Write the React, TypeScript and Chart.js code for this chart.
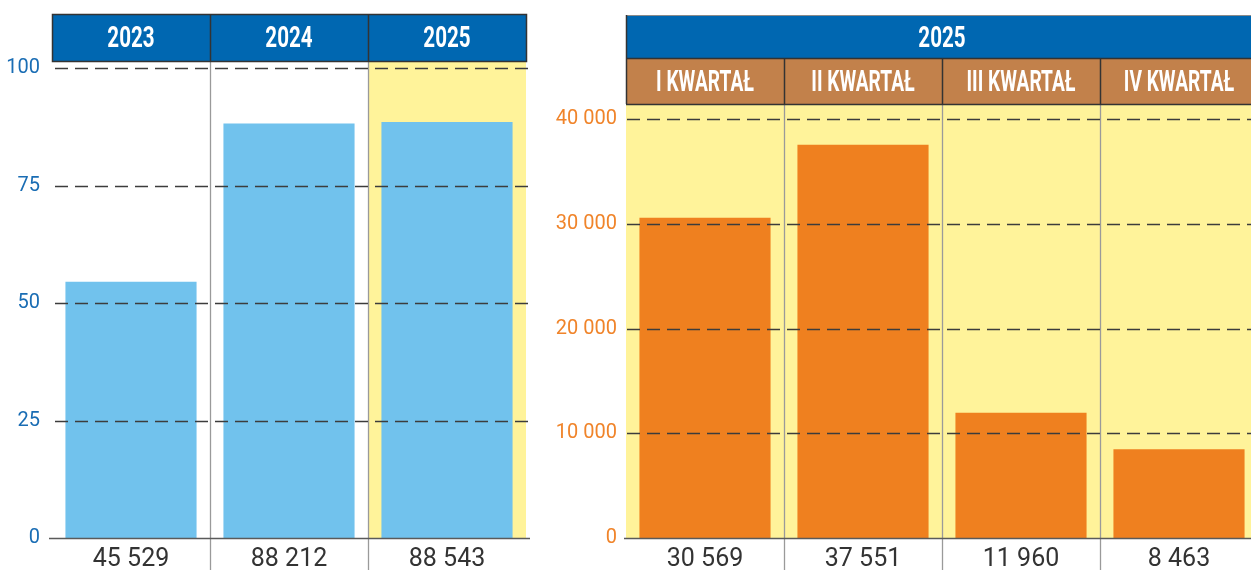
import React, { useEffect, useRef } from 'react';
import { Chart, registerables } from 'chart.js';

Chart.register(...registerables);

// ---- data ----
const yearCategories = ['2023', '2024', '2025'];
const yearBarValues = [54.5, 88.2, 88.5];
const yearValueLabels = ['45 529', '88 212', '88 543'];
const yearAxisMax = 100;
const yearAxisStep = 25;
const yearHighlightIndex = 2;

const quarterGroupTitle = '2025';
const quarterCategories = ['I KWARTAŁ', 'II KWARTAŁ', 'III KWARTAŁ', 'IV KWARTAŁ'];
const quarterValues = [30569, 37551, 11960, 8463];
const quarterValueLabels = ['30 569', '37 551', '11 960', '8 463'];
const quarterAxisMax = 40000;
const quarterAxisStep = 10000;

// ---- styles ----
const C = {
  headerBlue: '#0067b1',
  headerBrown: '#c2814b',
  yellow: '#fff39a',
  barBlue: '#71c2ed',
  barOrange: '#ef801f',
  tickBlue: '#1a6db4',
  tickOrange: '#f0842a',
  text: '#333333',
  grid: '#3c3c3c',
  divider: '#9a9a9a',
  border: '#333333',
  axis: '#5a5a5a',
};

const FONT = 'Roboto, "DejaVu Sans", sans-serif';

function spaced(n: number): string {
  return String(n).replace(/\B(?=(\d{3})+(?!\d))/g, ' ');
}

function categoryBounds(chart: any): number[] {
  const x = chart.scales.x;
  const n = chart.data.labels.length;
  const w = (x.right - x.left) / n;
  const out: number[] = [];
  for (let i = 0; i <= n; i++) out.push(x.left + i * w);
  return out;
}

function condensedText(ctx: CanvasRenderingContext2D, text: string, cx: number, baseline: number, size: number, sx: number, color: string) {
  ctx.save();
  ctx.translate(cx, baseline);
  ctx.scale(sx, 1);
  ctx.fillStyle = color;
  ctx.font = `bold ${size}px ${FONT}`;
  ctx.textAlign = 'center';
  ctx.textBaseline = 'alphabetic';
  ctx.fillText(text, 0, 0);
  ctx.restore();
}

function hLine(ctx: CanvasRenderingContext2D, x1: number, x2: number, y: number) {
  ctx.beginPath();
  ctx.moveTo(x1, y);
  ctx.lineTo(x2, y);
  ctx.stroke();
}
function vLine(ctx: CanvasRenderingContext2D, x: number, y1: number, y2: number) {
  ctx.beginPath();
  ctx.moveTo(x, y1);
  ctx.lineTo(x, y2);
  ctx.stroke();
}

function drawGridAndAxis(chart: any, step: number, max: number, gl: number, gr: number, al: number, ar: number) {
  const { ctx, scales } = chart;
  const y = scales.y;
  ctx.save();
  ctx.strokeStyle = C.grid;
  ctx.lineWidth = 1.6;
  ctx.setLineDash([13, 7]);
  for (let v = step; v <= max; v += step) {
    const py = Math.round(y.getPixelForValue(v)) + 0.5;
    hLine(ctx, gl, gr, py);
  }
  ctx.setLineDash([]);
  ctx.strokeStyle = C.axis;
  ctx.lineWidth = 1.4;
  const p0 = Math.round(y.getPixelForValue(0)) + 0.5;
  hLine(ctx, al, ar, p0);
  ctx.restore();
}

const yearPlugin = {
  id: 'yearDecor',
  beforeDatasetsDraw(chart: any) {
    const { ctx, chartArea: a } = chart;
    const b = categoryBounds(chart);
    const headerBottom = 61;
    ctx.save();
    ctx.fillStyle = C.yellow;
    ctx.fillRect(b[yearHighlightIndex], headerBottom, b[yearHighlightIndex + 1] - b[yearHighlightIndex], a.bottom - headerBottom);
    ctx.strokeStyle = C.divider;
    ctx.lineWidth = 1.3;
    for (let i = 1; i < b.length - 1; i++) {
      vLine(ctx, Math.round(b[i]) + 0.5, headerBottom, chart.height);
    }
    ctx.restore();
  },
  afterDatasetsDraw(chart: any) {
    const { ctx, chartArea: a } = chart;
    const b = categoryBounds(chart);
    drawGridAndAxis(chart, yearAxisStep, yearAxisMax, a.left + 3, a.right + 4, a.left - 3, a.right + 4);
    const top = 14, bottom = 61;
    ctx.save();
    ctx.fillStyle = C.headerBlue;
    ctx.fillRect(b[0], top, b[b.length - 1] - b[0], bottom - top);
    ctx.strokeStyle = C.border;
    ctx.lineWidth = 1.5;
    ctx.strokeRect(Math.round(b[0]) + 0.5, top + 0.5, Math.round(b[b.length - 1] - b[0]), bottom - top);
    for (let i = 1; i < b.length - 1; i++) vLine(ctx, Math.round(b[i]) + 0.5, top, bottom);
    ctx.restore();
    yearCategories.forEach((label, i) => {
      condensedText(ctx, label, (b[i] + b[i + 1]) / 2, 47, 29, 0.71, '#ffffff');
    });
  },
};

const quarterPlugin = {
  id: 'quarterDecor',
  beforeDatasetsDraw(chart: any) {
    const { ctx, chartArea: a } = chart;
    const b = categoryBounds(chart);
    const top = 104;
    ctx.save();
    ctx.fillStyle = C.yellow;
    ctx.fillRect(b[0], top, b[b.length - 1] - b[0], a.bottom - top);
    ctx.strokeStyle = C.divider;
    ctx.lineWidth = 1.3;
    for (let i = 1; i < b.length - 1; i++) {
      vLine(ctx, Math.round(b[i]) + 0.5, top, chart.height);
    }
    ctx.restore();
  },
  afterDatasetsDraw(chart: any) {
    const { ctx, chartArea: a } = chart;
    const b = categoryBounds(chart);
    const right = b[b.length - 1];
    drawGridAndAxis(chart, quarterAxisStep, quarterAxisMax, a.left + 1, right, a.left - 2, right);
    const t1 = 15, t2 = 58, t3 = 104;
    ctx.save();
    ctx.fillStyle = C.headerBlue;
    ctx.fillRect(b[0], t1, right - b[0], t2 - t1);
    ctx.fillStyle = C.headerBrown;
    ctx.fillRect(b[0], t2, right - b[0], t3 - t2);
    ctx.strokeStyle = '#8a8a8a';
    ctx.lineWidth = 1.2;
    hLine(ctx, b[0], right, t1 + 0.5);
    ctx.strokeStyle = C.border;
    ctx.lineWidth = 1.5;
    hLine(ctx, b[0], right, t2 + 0.5);
    hLine(ctx, b[0], right, t3 + 0.5);
    vLine(ctx, Math.round(b[0]) + 0.5, t1, t3);
    for (let i = 1; i < b.length - 1; i++) vLine(ctx, Math.round(b[i]) + 0.5, t2, t3);
    ctx.restore();
    condensedText(ctx, quarterGroupTitle, (b[0] + right) / 2, 47, 29, 0.71, '#ffffff');
    quarterCategories.forEach((label, i) => {
      condensedText(ctx, label, (b[i] + b[i + 1]) / 2, 91, 29, 0.66, '#ffffff');
    });
  },
};

function makeConfig(opts: {
  labels: string[];
  values: number[];
  valueLabels: string[];
  color: string;
  max: number;
  step: number;
  tickColor: string;
  tickFormat: (v: number) => string;
  yWidth: number;
  tickPad: number;
  padTop: number;
  padRight: number;
  plugin: any;
}): any {
  return {
    type: 'bar',
    data: {
      labels: opts.labels,
      datasets: [
        {
          data: opts.values,
          backgroundColor: opts.color,
          borderWidth: 0,
          categoryPercentage: 1,
          barPercentage: 0.83,
        },
      ],
    },
    options: {
      animation: false,
      responsive: false,
      maintainAspectRatio: false,
      devicePixelRatio: 1,
      layout: { padding: { top: opts.padTop, right: opts.padRight, left: 0, bottom: 0 } },
      plugins: { legend: { display: false }, tooltip: { enabled: false }, title: { display: false } },
      scales: {
        x: {
          grid: { display: false, drawTicks: false },
          border: { display: false },
          ticks: {
            autoSkip: false,
            maxRotation: 0,
            minRotation: 0,
            padding: 7,
            color: C.text,
            font: { family: FONT, size: 25 },
            callback: (_v: any, i: number) => opts.valueLabels[i],
          },
          afterFit: (s: any) => {
            s.height = 32;
          },
        },
        y: {
          min: 0,
          max: opts.max,
          grid: { display: false, drawTicks: false },
          border: { display: false },
          ticks: {
            stepSize: opts.step,
            padding: opts.tickPad,
            color: opts.tickColor,
            font: { family: FONT, size: 20 },
            callback: (v: any) => opts.tickFormat(Number(v)),
          },
          afterFit: (s: any) => {
            s.width = opts.yWidth;
          },
        },
      },
    },
    plugins: [opts.plugin],
  };
}

function ChartCanvas({ config, width, height, left }: { config: any; width: number; height: number; left: number }) {
  const ref = useRef<HTMLCanvasElement | null>(null);
  useEffect(() => {
    if (!ref.current) return;
    const chart = new Chart(ref.current, config);
    return () => chart.destroy();
  }, []);
  return (
    <canvas
      ref={ref}
      width={width}
      height={height}
      style={{ position: 'absolute', left, top: 0, width, height, display: 'block' }}
    />
  );
}

export default function App() {
  const yearConfig = makeConfig({
    labels: yearCategories,
    values: yearBarValues,
    valueLabels: yearValueLabels,
    color: C.barBlue,
    max: yearAxisMax,
    step: yearAxisStep,
    tickColor: C.tickBlue,
    tickFormat: (v) => String(v),
    yWidth: 52,
    tickPad: 12,
    padTop: 68,
    padRight: 14,
    plugin: yearPlugin,
  });
  const quarterConfig = makeConfig({
    labels: quarterCategories,
    values: quarterValues,
    valueLabels: quarterValueLabels,
    color: C.barOrange,
    max: quarterAxisMax,
    step: quarterAxisStep,
    tickColor: C.tickOrange,
    tickFormat: (v) => spaced(v),
    yWidth: 80,
    tickPad: 9,
    padTop: 119,
    padRight: 0,
    plugin: quarterPlugin,
  });
  return (
    <div
      style={{
        position: 'fixed',
        left: 0,
        top: 0,
        width: 1251,
        height: 570,
        overflow: 'hidden',
        background: '#ffffff',
      }}
    >
      <ChartCanvas config={yearConfig} width={540} height={570} left={0} />
      <ChartCanvas config={quarterConfig} width={712} height={570} left={546} />
    </div>
  );
}
